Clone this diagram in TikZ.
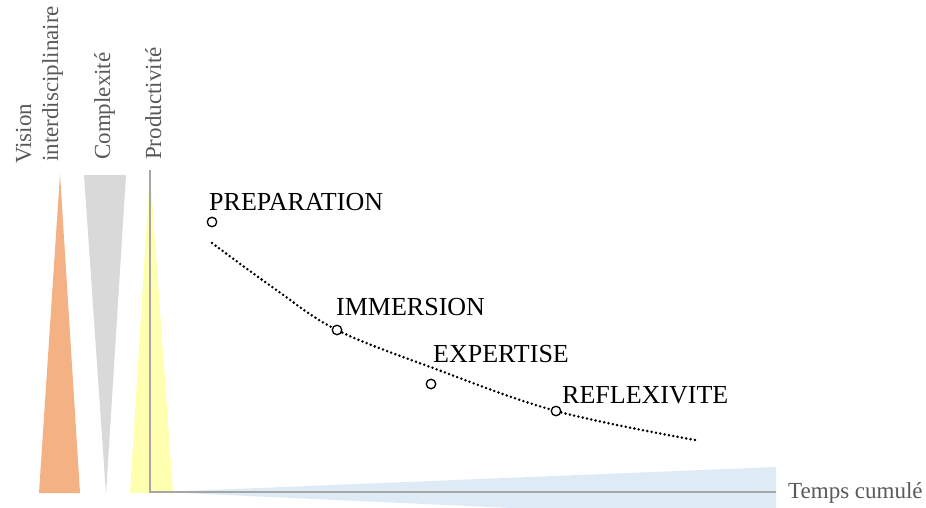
\documentclass[tikz,border=0pt]{standalone}
\usepackage{fontspec}
\setmainfont{Liberation Serif}
\definecolor{orangeT}{HTML}{F4B183}
\definecolor{grayT}{HTML}{D9D9D9}
\definecolor{yellowT}{HTML}{FFFFB0}
\definecolor{blueT}{HTML}{DEEBF7}
\definecolor{axisC}{HTML}{A6A6A6}
\definecolor{labC}{HTML}{595959}
\tikzset{
  axlab/.style={rotate=90,anchor=base west,inner sep=0pt,text=labC,font=\fontsize{23}{27}\selectfont},
  phase/.style={anchor=base west,inner sep=0pt,font=\fontsize{26}{31}\selectfont},
  pt/.style={circle,draw=black,fill=white,line width=1.3pt,minimum size=9.5pt,inner sep=0pt},
  axis/.style={draw=axisC,line width=1.6pt},
  dotline/.style={line width=2.8pt,line cap=round,dash pattern=on 0pt off 4.4pt}
}
\begin{document}
\begin{tikzpicture}[x=1pt,y=-1pt]
\useasboundingbox (0,0) rectangle (926,508);
\begin{scope}
\clip (0,0) rectangle (926,508);
\fill[blueT] (160,492) -- (776,467) -- (776,520) -- cycle;
\end{scope}
\fill[orangeT] (60,174) -- (80,493) -- (39,493) -- cycle;
\fill[grayT] (84,175) -- (126,175) -- (106,494) -- cycle;
\fill[yellowT] (150,170) -- (173,493) -- (130,493) -- cycle;
\coordinate (otop) at (150,170);
\coordinate (orig) at (150,492);
\coordinate (xend) at (776,492);
\draw[axis] (otop) -- (orig) -- (xend);
\node[anchor=west,inner sep=0pt,text=labC,font=\fontsize{23}{27}\selectfont] (tc) at (788,493) {Temps cumulé};
\node[axlab] (v1) at (31,164) {Vision};
\node[axlab] (v2) at (58,162) {interdisciplinaire};
\node[axlab] (cx) at (110,160) {Complexité};
\node[axlab] (pr) at (161,160) {Productivité};
\draw[dotline] plot[smooth,tension=0.6] coordinates {(212,243) (275,289) (337,330) (433,368) (556,411) (695,440)};
\node[pt] (p1) at (212,222) {};
\node[pt] (p2) at (337,330) {};
\node[pt] (p3) at (431,384) {};
\node[pt] (p4) at (556,411) {};
\node[phase] (l1) at (209,210) {PREPARATION};
\node[phase] (l2) at (336,315) {IMMERSION};
\node[phase] (l3) at (433,362) {EXPERTISE};
\node[phase] (l4) at (562,403) {REFLEXIVITE};
\end{tikzpicture}
\end{document}
